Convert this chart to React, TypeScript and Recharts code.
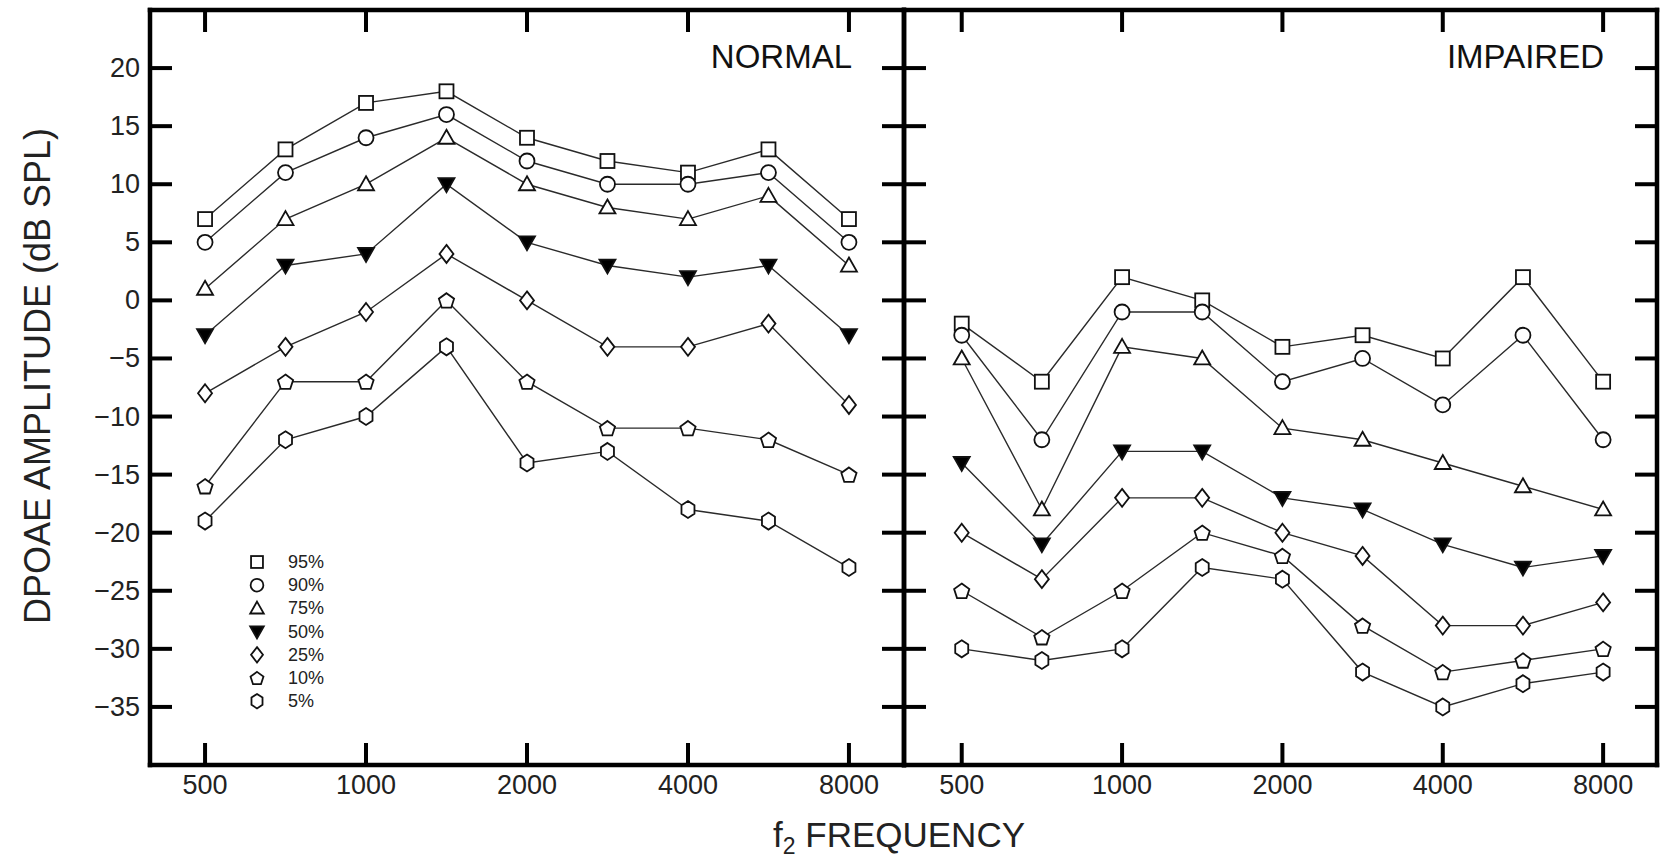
import React from 'react';
import { LineChart, Line, XAxis, YAxis } from 'recharts';

// f2 frequencies (half-octave steps) and the percentile series
const freqs = [500, 707, 1000, 1414, 2000, 2828, 4000, 5657, 8000];
const freqTicks = [500, 1000, 2000, 4000, 8000];
const ampTicks = [-35, -30, -25, -20, -15, -10, -5, 0, 5, 10, 15, 20];
const pctLabels = ['95%', '90%', '75%', '50%', '25%', '10%', '5%'];

const normal95 = [7, 13, 17, 18, 14, 12, 11, 13, 7];
const normal90 = [5, 11, 14, 16, 12, 10, 10, 11, 5];
const normal75 = [1, 7, 10, 14, 10, 8, 7, 9, 3];
const normal50 = [-3, 3, 4, 10, 5, 3, 2, 3, -3];
const normal25 = [-8, -4, -1, 4, 0, -4, -4, -2, -9];
const normal10 = [-16, -7, -7, 0, -7, -11, -11, -12, -15];
const normal5 = [-19, -12, -10, -4, -14, -13, -18, -19, -23];

const impaired95 = [-2, -7, 2, 0, -4, -3, -5, 2, -7];
const impaired90 = [-3, -12, -1, -1, -7, -5, -9, -3, -12];
const impaired75 = [-5, -18, -4, -5, -11, -12, -14, -16, -18];
const impaired50 = [-14, -21, -13, -13, -17, -18, -21, -23, -22];
const impaired25 = [-20, -24, -17, -17, -20, -22, -28, -28, -26];
const impaired10 = [-25, -29, -25, -20, -22, -28, -32, -31, -30];
const impaired5 = [-30, -31, -30, -23, -24, -32, -35, -33, -32];

const seriesKeys = ['p95', 'p90', 'p75', 'p50', 'p25', 'p10', 'p5'];
const shapes = ['square', 'circle', 'triangle', 'triangleDown', 'diamond', 'pentagon', 'hexagon'];

const buildRows = (cols: number[][]) =>
  freqs.map((f, i) => {
    const row: any = { f };
    seriesKeys.forEach((k, j) => (row[k] = cols[j][i]));
    return row;
  });

const normalRows = buildRows([normal95, normal90, normal75, normal50, normal25, normal10, normal5]);
const impairedRows = buildRows([impaired95, impaired90, impaired75, impaired50, impaired25, impaired10, impaired5]);

const FONT = "'Liberation Sans', Arial, Helvetica, sans-serif";
const leftDomain = [500 * Math.pow(2, -0.342), 8000 * Math.pow(2, 0.342)];
const rightDomain = [500 * Math.pow(2, -0.36), 8000 * Math.pow(2, 0.336)];
const TICK_LEN = 22;

const polygon = (cx: number, cy: number, n: number, rx: number, ry: number) =>
  Array.from({ length: n }, (_, i) => {
    const a = -Math.PI / 2 + (i * 2 * Math.PI) / n;
    return `${cx + rx * Math.cos(a)},${cy + ry * Math.sin(a)}`;
  }).join(' ');

const Marker = ({ shape, cx, cy, s = 1 }: { shape: string; cx: number; cy: number; s?: number }) => {
  const common = { fill: '#fff', stroke: '#111', strokeWidth: 1.8 };
  switch (shape) {
    case 'square':
      return <rect x={cx - 7 * s} y={cy - 7 * s} width={14 * s} height={14 * s} {...common} />;
    case 'circle':
      return <circle cx={cx} cy={cy} r={7.5 * s} {...common} />;
    case 'triangle':
      return <polygon points={`${cx},${cy - 8 * s} ${cx + 8 * s},${cy + 6 * s} ${cx - 8 * s},${cy + 6 * s}`} {...common} />;
    case 'triangleDown':
      return <polygon points={`${cx - 8 * s},${cy - 6 * s} ${cx + 8 * s},${cy - 6 * s} ${cx},${cy + 8 * s}`} {...common} fill="#000" />;
    case 'diamond':
      return <polygon points={`${cx},${cy - 9 * s} ${cx + 7 * s},${cy} ${cx},${cy + 9 * s} ${cx - 7 * s},${cy}`} {...common} />;
    case 'pentagon':
      return <polygon points={polygon(cx, cy + 0.8 * s, 5, 8 * s, 8 * s)} {...common} />;
    default:
      return <polygon points={polygon(cx, cy, 6, 7.5 * s, 8.5 * s)} {...common} />;
  }
};

const fmtAmp = (v: number) => (v < 0 ? '\u2212' + Math.abs(v) : String(v));
const labelStyle = { fill: '#222', fontSize: 27, fontFamily: FONT };
const axisStyle = { stroke: '#000', strokeWidth: 4.5, strokeLinecap: 'square' as const };

// inward tick marks, drawn by the axis tick renderers
const LeftTick = ({ x, y, payload, margin, labels }: any) => (
  <g>
    <line x1={x + margin} x2={x + margin + TICK_LEN} y1={y} y2={y} stroke="#000" strokeWidth={4} />
    {labels && (
      <text x={x} y={y} textAnchor="end" dominantBaseline="central" {...labelStyle}>
        {fmtAmp(payload.value)}
      </text>
    )}
  </g>
);

const RightTick = ({ x, y }: any) => (
  <line x1={x - TICK_LEN} x2={x} y1={y} y2={y} stroke="#000" strokeWidth={4} />
);

const BottomTick = ({ x, y, payload, margin }: any) => (
  <g>
    <line x1={x} x2={x} y1={y - margin} y2={y - margin - TICK_LEN} stroke="#000" strokeWidth={4} />
    <text x={x} y={y} textAnchor="middle" dominantBaseline="hanging" {...labelStyle}>
      {payload.value}
    </text>
  </g>
);

const TopTick = ({ x, y }: any) => (
  <line x1={x} x2={x} y1={y} y2={y + TICK_LEN} stroke="#000" strokeWidth={4} />
);

const Panel = ({ rows, domain, showYLabels }: { rows: any[]; domain: number[]; showYLabels: boolean }) => (
  <LineChart
    width={showYLabels ? 910 : 766}
    height={861}
    data={rows}
    margin={{ top: 0, right: 0, bottom: 46, left: showYLabels ? 50 : 0 }}
  >
    <XAxis
      xAxisId="b"
      dataKey="f"
      type="number"
      scale="log"
      domain={domain}
      allowDataOverflow
      ticks={freqTicks}
      interval={0}
      height={50}
      axisLine={axisStyle}
      tickLine={false}
      tickSize={0}
      tickMargin={10}
      tick={(p: any) => <BottomTick {...p} margin={10} />}
    />
    <XAxis
      xAxisId="t"
      orientation="top"
      dataKey="f"
      type="number"
      scale="log"
      domain={domain}
      allowDataOverflow
      ticks={freqTicks}
      interval={0}
      height={10}
      axisLine={axisStyle}
      tickLine={false}
      tickSize={0}
      tickMargin={0}
      tick={(p: any) => <TopTick {...p} />}
    />
    <YAxis
      yAxisId="l"
      type="number"
      domain={[-40, 25]}
      allowDataOverflow
      ticks={ampTicks}
      interval={0}
      width={showYLabels ? 100 : 10}
      axisLine={axisStyle}
      tickLine={false}
      tickSize={0}
      tickMargin={10}
      tick={(p: any) => <LeftTick {...p} margin={10} labels={showYLabels} />}
    />
    <YAxis
      yAxisId="r"
      orientation="right"
      type="number"
      domain={[-40, 25]}
      allowDataOverflow
      ticks={ampTicks}
      interval={0}
      width={showYLabels ? 6 : 3}
      axisLine={axisStyle}
      tickLine={false}
      tickSize={0}
      tickMargin={0}
      tick={(p: any) => <RightTick {...p} />}
    />
    {seriesKeys.map((k, j) => (
      <Line
        key={k}
        xAxisId="b"
        yAxisId="l"
        dataKey={k}
        type="linear"
        stroke="#2a2a2a"
        strokeWidth={1.4}
        isAnimationActive={false}
        activeDot={false}
        dot={(p: any) => <Marker key={`${k}-${p.index}`} shape={shapes[j]} cx={p.cx} cy={p.cy} />}
      />
    ))}
  </LineChart>
);

export default function App() {
  return (
    <div style={{ position: 'absolute', left: 0, top: 0, width: 1660, height: 861, background: '#fff' }}>
      <div style={{ position: 'absolute', left: 0, top: 0 }}>
        <Panel rows={normalRows} domain={leftDomain} showYLabels />
      </div>
      <div style={{ position: 'absolute', left: 894, top: 0 }}>
        <Panel rows={impairedRows} domain={rightDomain} showYLabels={false} />
      </div>
      <svg width={1660} height={861} style={{ position: 'absolute', left: 0, top: 0, pointerEvents: 'none' }} fontFamily={FONT}>
        <text x={852} y={68} textAnchor="end" fontSize={33} fill="#111">NORMAL</text>
        <text x={1604} y={68} textAnchor="end" fontSize={33} fill="#111">IMPAIRED</text>
        <text
          x={37}
          y={376}
          transform="rotate(-90 37 376)"
          textAnchor="middle"
          dominantBaseline="central"
          fontSize={36}
          fill="#222"
        >
          DPOAE AMPLITUDE (dB SPL)
        </text>
        <text x={773} y={847} fontSize={35} fill="#222">
          f<tspan fontSize={23} dy={7}>2</tspan>
          <tspan dy={-7}> FREQUENCY</tspan>
        </text>
        {pctLabels.map((lab, i) => (
          <g key={lab}>
            <Marker shape={shapes[i]} cx={257} cy={562 + i * 23.2} s={0.85} />
            <text x={288} y={562 + i * 23.2} dominantBaseline="central" fontSize={18} fill="#222">
              {lab}
            </text>
          </g>
        ))}
      </svg>
    </div>
  );
}
